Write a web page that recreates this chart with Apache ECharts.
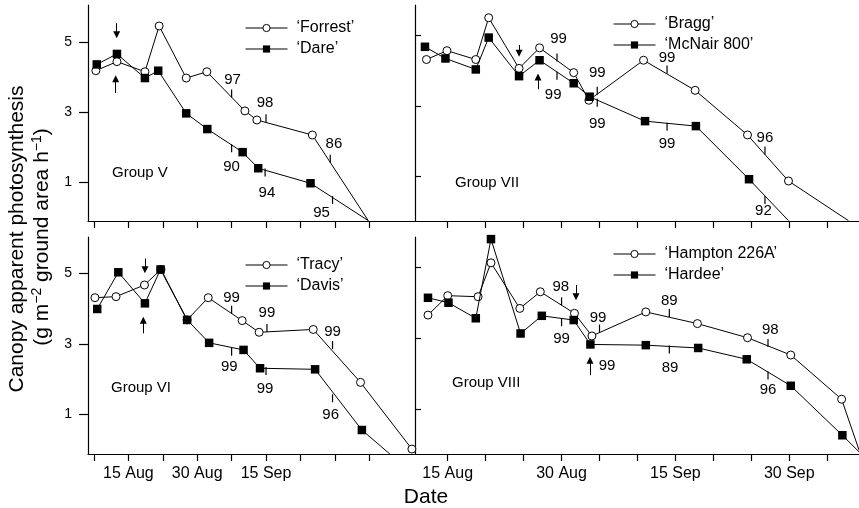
<!DOCTYPE html>
<html>
<head>
<meta charset="utf-8">
<script src="https://cdn.jsdelivr.net/npm/echarts@6/dist/echarts.min.js"></script>
<style>
    html, body { margin: 0; padding: 0; background: #fff; }
    #chart { width: 859px; height: 508px; }
</style>
</head>
<body>
<div id="chart"></div>
<script>
// x = day counted from 1 Aug (1 Aug = 1, 1 Sep = 32)
const leftTicks = [7.5, 15, 22.5, 30, 37.5, 45, 52.5, 60, 67.5];
const leftLabelDays = [15, 30, 45];
const leftLabelText = ['15 Aug', '30 Aug', '15 Sep'];
const rightTicks = [15, 20, 25, 30, 35, 40, 45, 50, 55, 60, 65];
const rightLabelDays = [15, 30, 45, 60];
const rightLabelText = ['15 Aug', '30 Aug', '15 Sep', '30 Sep'];
const yTicks = [1, 3, 5];

// Group V
const forrestDays = [7.9, 12.5, 18.6, 21.7, 27.6, 32.1, 40.4, 43.0, 55.1, 67.3];
const forrestRate = [4.19, 4.45, 4.16, 5.47, 3.98, 4.16, 3.04, 2.78, 2.35, -0.1];
const dareDays = [8.1, 12.5, 18.6, 21.5, 27.6, 32.2, 39.9, 43.3, 54.7, 67.3];
const dareRate = [4.37, 4.67, 3.98, 4.19, 2.97, 2.52, 1.86, 1.40, 0.97, -0.1];

// Group VII
const braggDays = [12.2, 14.9, 18.7, 20.4, 24.4, 27.1, 31.6, 33.6, 40.8, 47.6, 54.5, 59.9, 67.8];
const braggRate = [4.31, 4.56, 4.31, 5.49, 4.06, 4.64, 3.94, 3.16, 4.29, 3.44, 2.18, 0.88, -0.24];
const mcnairDays = [12.0, 14.7, 18.7, 20.4, 24.4, 27.1, 31.6, 33.7, 41.0, 47.7, 54.7, 59.9];
const mcnairRate = [4.67, 4.34, 4.03, 4.93, 3.84, 4.29, 3.64, 3.26, 2.57, 2.43, 0.93, -0.24];

// Group VI
const tracyDays = [7.7, 12.3, 18.5, 22.1, 27.8, 32.4, 39.8, 43.5, 55.3, 65.6, 76.8];
const tracyRate = [4.31, 4.34, 4.67, 5.11, 3.68, 4.31, 3.66, 3.33, 3.41, 1.91, 0.02];
const davisDays = [8.2, 12.8, 18.6, 22.0, 27.8, 32.6, 40.1, 43.7, 55.7, 65.9, 72.0];
const davisRate = [3.99, 5.03, 4.15, 5.11, 3.68, 3.03, 2.83, 2.31, 2.28, 0.56, -0.12];

// Group VIII
const hamptonDays = [12.4, 15.0, 19.0, 20.7, 24.5, 27.2, 31.7, 34.0, 41.1, 47.9, 54.5, 60.2, 66.9, 69.2];
const hamptonRate = [3.66, 4.21, 4.18, 5.14, 3.85, 4.32, 3.71, 3.07, 3.75, 3.42, 3.02, 2.53, 1.28, -0.16];
const hardeeDays = [12.4, 15.1, 18.7, 20.7, 24.6, 27.4, 31.6, 33.8, 41.1, 48.0, 54.4, 60.2, 67.0, 69.2];
const hardeeRate = [4.15, 4.01, 3.57, 5.81, 3.14, 3.64, 3.52, 2.83, 2.81, 2.73, 2.41, 1.66, 0.26, -0.21];

// notes on the lines: [tick day, tick rate, label day, label rate, text]
const groupVNotes = [
    [37.5, 3.54, 37.7, 3.92, '97'],
    [45.0, 2.83, 44.8, 3.26, '98'],
    [59.0, 1.67, 59.8, 2.09, '86'],
    [37.5, 1.97, 37.5, 1.45, '90'],
    [44.8, 1.28, 45.2, 0.69, '94'],
    [59.5, 0.49, 57.1, 0.11, '95']
];
const groupVIINotes = [
    [29.4, 4.37, 29.6, 4.88, '99'],
    [29.4, 3.85, 28.9, 3.31, '99'],
    [34.7, 3.43, 34.7, 3.92, '99'],
    [34.7, 3.09, 34.7, 2.49, '99'],
    [43.9, 4.03, 43.9, 4.37, '99'],
    [43.9, 2.41, 43.9, 1.92, '99'],
    [56.8, 1.74, 56.8, 2.11, '96'],
    [56.8, 0.34, 56.6, 0.04, '92']
];
const groupVINotes = [
    [37.5, 3.97, 37.5, 4.31, '99'],
    [45.2, 3.45, 45.2, 3.87, '99'],
    [59.5, 2.97, 59.5, 3.33, '99'],
    [37.5, 2.78, 37.0, 2.35, '99'],
    [45.0, 2.23, 44.8, 1.72, '99'],
    [59.5, 1.46, 59.1, 0.99, '96']
];
const groupVIIINotes = [
    [30.0, 4.05, 29.9, 4.46, '98'],
    [30.0, 3.46, 30.0, 3.00, '99'],
    [35.0, 3.28, 34.8, 3.58, '99'],
    [null, null, 36.0, 2.22, '99'],
    [44.2, 3.72, 44.2, 4.06, '89'],
    [44.2, 2.69, 44.3, 2.17, '89'],
    [57.2, 2.87, 57.5, 3.24, '98'],
    [57.2, 1.95, 57.2, 1.54, '96']
];

// arrows: [day, tail rate, head rate]
const groupVArrows = [[12.45, 5.55, 5.22], [12.23, 3.55, 3.96]];
const groupVIIArrows = [[24.4, 4.72, 4.49], [26.9, 3.47, 3.82]];
const groupVIArrows = [[18.6, 5.42, 5.10], [18.25, 3.30, 3.67]];
const groupVIIIArrows = [[31.9, 4.51, 4.18], [33.75, 1.96, 2.38]];

const FONT = '"Liberation Sans", Arial, Helvetica, sans-serif';
const AXIS_COLOR = '#000';

let myChart = echarts.init(document.getElementById('chart'));

function makeXAxis(panel, min, max, ticks, labelDays, labelText, showLabels) {
    return {
        type: 'value', gridIndex: panel, min: min, max: max,
        axisLine: { show: true, onZero: false, lineStyle: { color: AXIS_COLOR, width: 1.2 } },
        axisTick: { show: true, customValues: ticks, length: 7, lineStyle: { color: AXIS_COLOR, width: 1.2 } },
        axisLabel: {
            show: showLabels, customValues: labelDays, color: '#000', fontSize: 16,
            fontFamily: FONT, margin: 12,
            formatter: function(value) {
                let i = labelDays.indexOf(value);
                return i >= 0 ? labelText[i] : '';
            }
        },
        splitLine: { show: false }
    };
}

function makeYAxis(panel, min, max, isLeft) {
    return {
        type: 'value', gridIndex: panel, min: min, max: max,
        axisLine: { show: true, onZero: false, lineStyle: { color: AXIS_COLOR, width: 1.2 } },
        axisTick: {
            show: true, customValues: yTicks, inside: !isLeft, length: isLeft ? 9 : 6,
            lineStyle: { color: AXIS_COLOR, width: 1.2 }
        },
        axisLabel: {
            show: isLeft, customValues: yTicks, color: '#000', fontSize: 14,
            fontFamily: FONT, margin: 16
        },
        splitLine: { show: false }
    };
}

function makeNotes(notes) {
    let items = [];
    notes.forEach(function(n) {
        if (n[0] !== null) {
            items.push({
                coord: [n[0], n[1]], symbol: 'rect', symbolSize: [1.2, 8],
                itemStyle: { color: '#000' }, label: { show: false }
            });
        }
        items.push({
            coord: [n[2], n[3]], symbol: 'rect', symbolSize: 1,
            itemStyle: { color: 'rgba(0,0,0,0)' },
            label: {
                show: true, position: 'inside', formatter: n[4],
                color: '#000', fontSize: 15, fontFamily: FONT
            }
        });
    });
    return items;
}

function makeArrows(arrows) {
    return arrows.map(function(a) {
        return [{ coord: [a[0], a[1]] }, { coord: [a[0], a[2]] }];
    });
}

function makeSeries(name, days, rates, panel, filled, openEnd, notes, arrows) {
    let data = days.map(function(d, i) { return [d, rates[i]]; });
    if (openEnd) {
        data[data.length - 1] = { value: data[data.length - 1], symbol: 'none' };
    }
    let s = {
        name: name, type: 'line', xAxisIndex: panel, yAxisIndex: panel,
        data: data,
        symbol: filled ? 'rect' : 'circle',
        symbolSize: filled ? 8.5 : 8,
        showAllSymbol: true,
        lineStyle: { color: '#000', width: 1 },
        itemStyle: filled ? { color: '#000' } : { color: '#fff', borderColor: '#000', borderWidth: 1 },
        z: filled ? 4 : 3,
        animation: false
    };
    if (notes) {
        s.markPoint = { silent: true, animation: false, data: makeNotes(notes) };
    }
    if (arrows) {
        s.markLine = {
            silent: true, animation: false,
            symbol: ['none', 'triangle'], symbolSize: 7,
            lineStyle: { color: '#000', width: 1, type: 'solid' },
            itemStyle: { color: '#000' },
            label: { show: false },
            data: makeArrows(arrows)
        };
    }
    return s;
}

function makeLegend(names, left, top) {
    return {
        data: names, left: left, top: top, orient: 'vertical',
        itemWidth: 42, itemHeight: 9, itemGap: 5,
        selectedMode: false,
        lineStyle: { width: 1 },
        itemStyle: { borderWidth: 1 },
        textStyle: { color: '#000', fontSize: 16, fontFamily: FONT, padding: [0, 0, 0, 4] }
    };
}

function groupLabel(text, x, y) {
    return {
        type: 'text', x: x, y: y,
        style: { text: text, fill: '#000', font: '15px ' + FONT, align: 'left', verticalAlign: 'middle' }
    };
}

let option = {
    animation: false,
    backgroundColor: '#fff',
    textStyle: { fontFamily: FONT },
    grid: [
        { left: 88, top: 5, width: 327, height: 216 },
        { left: 415, top: 5, width: 444, height: 216 },
        { left: 88, top: 237, width: 327, height: 217 },
        { left: 415, top: 237, width: 444, height: 217 }
    ],
    xAxis: [
        makeXAxis(0, 6.19, 77.48, leftTicks, leftLabelDays, leftLabelText, false),
        makeXAxis(1, 10.69, 69.19, rightTicks, rightLabelDays, rightLabelText, false),
        makeXAxis(2, 6.19, 77.48, leftTicks, leftLabelDays, leftLabelText, true),
        makeXAxis(3, 10.69, 69.19, rightTicks, rightLabelDays, rightLabelText, true)
    ],
    yAxis: [
        makeYAxis(0, -0.11, 6.07, true),
        makeYAxis(1, -0.25, 5.85, false),
        makeYAxis(2, -0.12, 6.03, true),
        makeYAxis(3, -0.27, 5.87, false)
    ],
    legend: [
        makeLegend(['‘Forrest’', '‘Dare’'], 240, 15),
        makeLegend(['‘Bragg’', '‘McNair 800’'], 608, 11),
        makeLegend(['‘Tracy’', '‘Davis’'], 240, 252),
        makeLegend(['‘Hampton 226A’', '‘Hardee’'], 608, 241)
    ],
    series: [
        makeSeries('‘Forrest’', forrestDays, forrestRate, 0, false, true, groupVNotes, groupVArrows),
        makeSeries('‘Dare’', dareDays, dareRate, 0, true, true),
        makeSeries('‘Bragg’', braggDays, braggRate, 1, false, true, groupVIINotes, groupVIIArrows),
        makeSeries('‘McNair 800’', mcnairDays, mcnairRate, 1, true, true),
        makeSeries('‘Tracy’', tracyDays, tracyRate, 2, false, false, groupVINotes, groupVIArrows),
        makeSeries('‘Davis’', davisDays, davisRate, 2, true, true),
        makeSeries('‘Hampton 226A’', hamptonDays, hamptonRate, 3, false, true, groupVIIINotes, groupVIIIArrows),
        makeSeries('‘Hardee’', hardeeDays, hardeeRate, 3, true, true)
    ],
    graphic: [
        groupLabel('Group V', 112, 173),
        groupLabel('Group VII', 455, 183),
        groupLabel('Group VI', 111, 388),
        groupLabel('Group VIII', 452, 383),
        {
            type: 'text', x: 17, y: 239, rotation: Math.PI / 2,
            style: {
                text: 'Canopy apparent photosynthesis', fill: '#000',
                font: '21px ' + FONT, align: 'center', verticalAlign: 'middle'
            }
        },
        {
            type: 'text', x: 42, y: 237, rotation: Math.PI / 2,
            style: {
                text: '(g m{sup|−2} ground area h{sup|−1})', fill: '#000',
                font: '21px ' + FONT, align: 'center', verticalAlign: 'middle',
                rich: {
                    sup: { fontSize: 14, fontFamily: FONT, fill: '#000', padding: [0, 0, 9, 0] }
                }
            }
        },
        {
            type: 'text', x: 426, y: 497,
            style: {
                text: 'Date', fill: '#000', font: '21px ' + FONT,
                align: 'center', verticalAlign: 'middle'
            }
        }
    ]
};

myChart.setOption(option);
</script>
</body>
</html>
